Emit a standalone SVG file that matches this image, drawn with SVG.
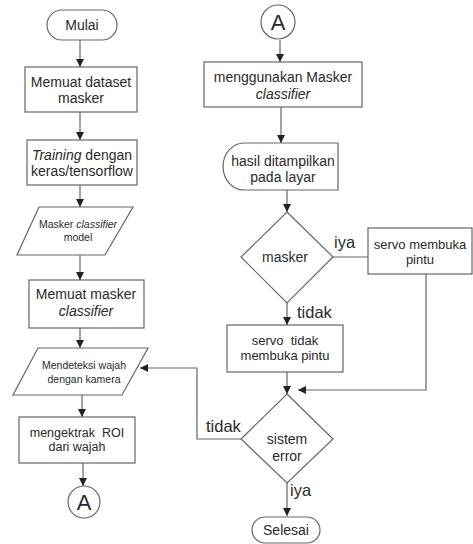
<svg xmlns="http://www.w3.org/2000/svg" width="473" height="544" viewBox="0 0 473 544">
<defs>
<marker id="ah" viewBox="0 0 10 10" refX="10" refY="5" markerWidth="8" markerHeight="8" markerUnits="userSpaceOnUse" orient="auto">
<path d="M0,0 L10,5 L0,10 Z" fill="#222"/>
</marker>
<style>
.s{fill:#fff;stroke:#666;stroke-width:1.2}
.c{fill:none;stroke:#666;stroke-width:1.2}
.a{marker-end:url(#ah)}
text{font-family:"Liberation Sans",Arial,sans-serif;fill:#2a2a2a;text-anchor:middle}
.t14{font-size:14px}
.t13{font-size:13px}
.t12{font-size:12.5px}
.t10{font-size:10.5px}
.lbl{font-size:16.5px;text-anchor:start}
.big{font-size:22px}
</style>
</defs>
<rect width="473" height="544" fill="#fff"/>
<g id="connectors">
<line class="c a" x1="80" y1="40" x2="80" y2="67"/>
<line class="c a" x1="80" y1="112" x2="80" y2="140"/>
<line class="c a" x1="80" y1="185" x2="80" y2="207"/>
<line class="c a" x1="80" y1="255" x2="80" y2="280"/>
<line class="c a" x1="80" y1="328" x2="80" y2="348"/>
<line class="c a" x1="82" y1="395" x2="82" y2="417"/>
<line class="c a" x1="83" y1="463" x2="83" y2="486"/>
<line class="c a" x1="280" y1="40" x2="280" y2="62"/>
<line class="c a" x1="281" y1="107" x2="281" y2="143"/>
<line class="c a" x1="287" y1="190" x2="287" y2="212"/>
<line class="c" x1="333" y1="257" x2="368" y2="257"/>
<line class="c a" x1="287" y1="303" x2="287" y2="325"/>
<line class="c a" x1="287" y1="372" x2="287" y2="394"/>
<polyline class="c a" points="426,274 426,390 298,390"/>
<polyline class="c a" points="241,439 197,439 197,368 140,368"/>
<line class="c a" x1="287" y1="483" x2="287" y2="516"/>
</g>
<g id="mulai">
<rect class="s" x="47" y="10" width="70" height="30" rx="15"/>
<text class="t14" x="82" y="30">Mulai</text>
</g>
<g id="dataset">
<rect class="s" x="25" y="67" width="112" height="45"/>
<text class="t14" x="81" y="87">Memuat dataset</text>
<text class="t14" x="81" y="103">masker</text>
</g>
<g id="training">
<rect class="s" x="27" y="140" width="110" height="45"/>
<text class="t14" x="82" y="160"><tspan font-style="italic">Training</tspan> dengan</text>
<text class="t14" x="82" y="176">keras/tensorflow</text>
</g>
<g id="model">
<polygon class="s" points="39,207 133,207 105,255 17,255"/>
<text class="t10" x="78" y="228">Masker <tspan font-style="italic">classifier</tspan></text>
<text class="t10" x="78" y="241">model</text>
</g>
<g id="memuat-classifier">
<rect class="s" x="29" y="280" width="115" height="48"/>
<text class="t14" x="86" y="299">Memuat masker</text>
<text class="t14" x="86" y="316" font-style="italic">classifier</text>
</g>
<g id="deteksi">
<polygon class="s" points="38,348 148,348 122,395 13,395"/>
<text class="t10" x="84" y="369">Mendeteksi wajah</text>
<text class="t10" x="84" y="383">dengan kamera</text>
</g>
<g id="roi">
<rect class="s" x="19" y="417" width="116" height="46"/>
<text class="t12" x="77" y="437" xml:space="preserve">mengektrak  ROI</text>
<text class="t12" x="77" y="451">dari wajah</text>
</g>
<g id="conn-a-left">
<circle class="s" cx="84" cy="502" r="16"/>
<text class="big" x="84" y="510">A</text>
</g>
<g id="conn-a-right">
<circle class="s" cx="278" cy="22" r="17"/>
<text class="big" x="278" y="30">A</text>
</g>
<g id="menggunakan">
<rect class="s" x="204" y="62" width="158" height="45"/>
<text class="t14" x="283" y="82">menggunakan Masker</text>
<text class="t14" x="283" y="99" font-style="italic">classifier</text>
</g>
<g id="tampil">
<path class="s" d="M338,143 L244,143 A21,23.5 0 0 0 244,190 L338,190 Z"/>
<text class="t14" x="283" y="166">hasil ditampilkan</text>
<text class="t14" x="283" y="182">pada layar</text>
</g>
<g id="masker">
<polygon class="s" points="287,212 333,257 287,303 241,257"/>
<text class="t14" x="285" y="262">masker</text>
</g>
<g id="buka">
<rect class="s" x="368" y="228" width="104" height="46"/>
<text class="t13" x="420" y="249">servo membuka</text>
<text class="t13" x="420" y="264">pintu</text>
</g>
<g id="tidak-buka">
<rect class="s" x="227" y="325" width="116" height="47"/>
<text class="t13" x="285" y="345" xml:space="preserve">servo  tidak</text>
<text class="t13" x="285" y="360">membuka pintu</text>
</g>
<g id="error">
<polygon class="s" points="287,394 333,439 287,483 241,439"/>
<text class="t14" x="287" y="444">sistem</text>
<text class="t14" x="287" y="461">error</text>
</g>
<g id="selesai">
<rect class="s" x="252" y="517" width="68" height="26" rx="13"/>
<text class="t14" x="286" y="535">Selesai</text>
</g>
<g id="labels">
<text class="lbl" x="334" y="248">iya</text>
<text class="lbl" x="297" y="318">tidak</text>
<text class="lbl" x="206" y="432">tidak</text>
<text class="lbl" x="290" y="496">iya</text>
</g>
</svg>
